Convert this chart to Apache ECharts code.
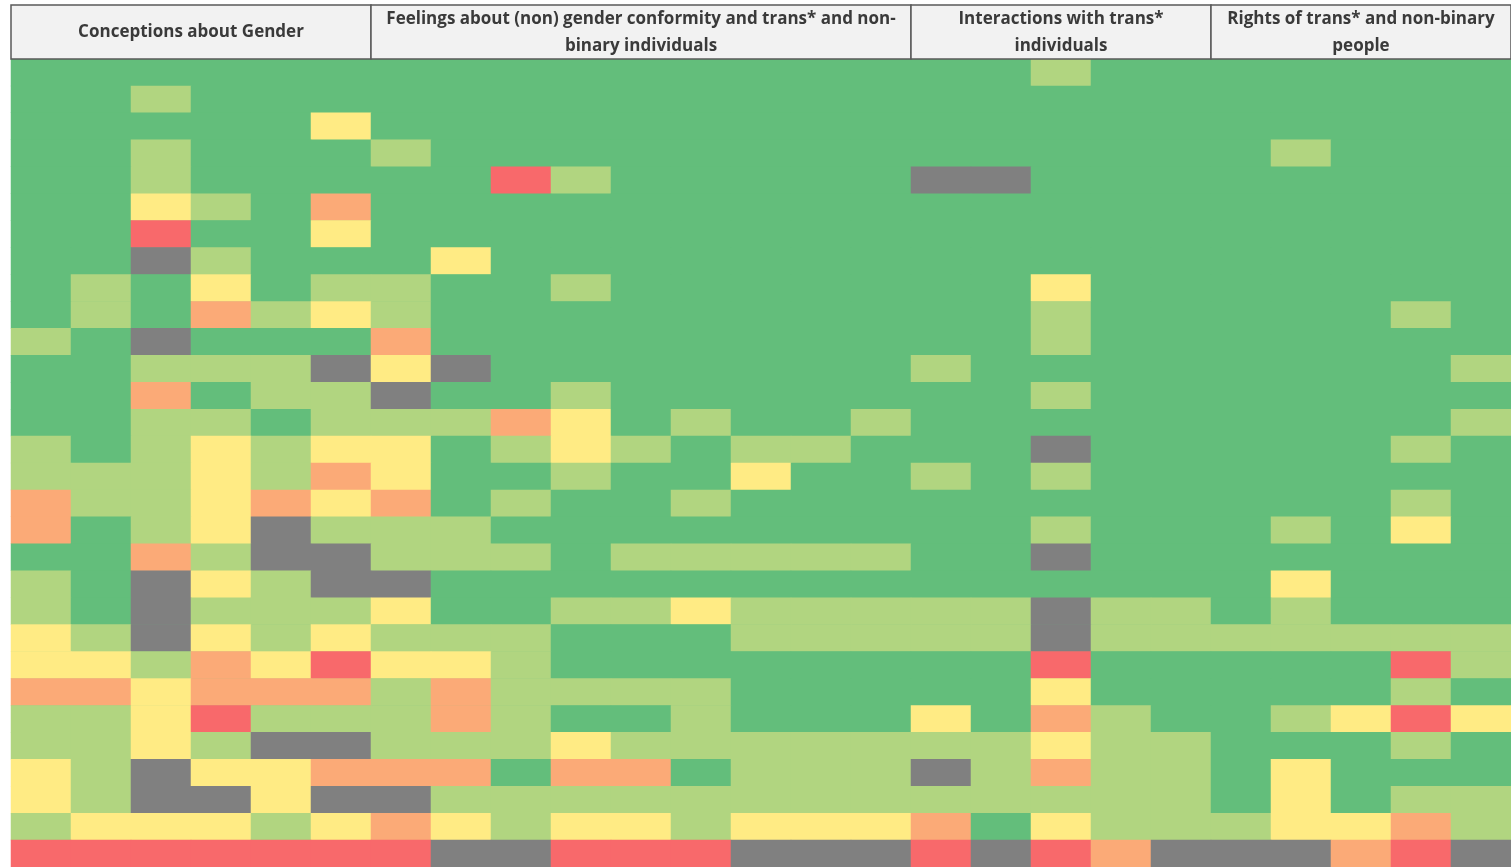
<!DOCTYPE html>
<html>
<head>
<meta charset="utf-8">
<script src="https://cdn.jsdelivr.net/npm/echarts@6/dist/echarts.min.js"></script>
<style>
html,body{margin:0;padding:0;background:#fff;}
#chart{width:1511px;height:867px;}
</style>
</head>
<body>
<div id="chart"></div>
<script>
// Column groups (header) and how many item columns each spans
const groupLabels = [
  "Conceptions about Gender",
  "Feelings about (non) gender conformity and trans* and non-\nbinary individuals",
  "Interactions with trans*\nindividuals",
  "Rights of trans* and non-binary\npeople"
];
const groupSpans = [6, 9, 5, 5];

// Response levels: 5 = best (dark green) ... 1 = worst (red), 0 = no answer (grey)
const levelValues = [5, 4, 3, 2, 1, 0];
const levelColors = ["#63BE7B", "#B1D580", "#FFEB84", "#FBAA77", "#F8696B", "#808080"];

// One array per respondent row (top to bottom), one value per item column
const r00 = [5,5,5,5,5,5,5,5,5,5,5,5,5,5,5,5,5,4,5,5,5,5,5,5,5];
const r01 = [5,5,4,5,5,5,5,5,5,5,5,5,5,5,5,5,5,5,5,5,5,5,5,5,5];
const r02 = [5,5,5,5,5,3,5,5,5,5,5,5,5,5,5,5,5,5,5,5,5,5,5,5,5];
const r03 = [5,5,4,5,5,5,4,5,5,5,5,5,5,5,5,5,5,5,5,5,5,4,5,5,5];
const r04 = [5,5,4,5,5,5,5,5,1,4,5,5,5,5,5,0,0,5,5,5,5,5,5,5,5];
const r05 = [5,5,3,4,5,2,5,5,5,5,5,5,5,5,5,5,5,5,5,5,5,5,5,5,5];
const r06 = [5,5,1,5,5,3,5,5,5,5,5,5,5,5,5,5,5,5,5,5,5,5,5,5,5];
const r07 = [5,5,0,4,5,5,5,3,5,5,5,5,5,5,5,5,5,5,5,5,5,5,5,5,5];
const r08 = [5,4,5,3,5,4,4,5,5,4,5,5,5,5,5,5,5,3,5,5,5,5,5,5,5];
const r09 = [5,4,5,2,4,3,4,5,5,5,5,5,5,5,5,5,5,4,5,5,5,5,5,4,5];
const r10 = [4,5,0,5,5,5,2,5,5,5,5,5,5,5,5,5,5,4,5,5,5,5,5,5,5];
const r11 = [5,5,4,4,4,0,3,0,5,5,5,5,5,5,5,4,5,5,5,5,5,5,5,5,4];
const r12 = [5,5,2,5,4,4,0,5,5,4,5,5,5,5,5,5,5,4,5,5,5,5,5,5,5];
const r13 = [5,5,4,4,5,4,4,4,2,3,5,4,5,5,4,5,5,5,5,5,5,5,5,5,4];
const r14 = [4,5,4,3,4,3,3,5,4,3,4,5,4,4,5,5,5,0,5,5,5,5,5,4,5];
const r15 = [4,4,4,3,4,2,3,5,5,4,5,5,3,5,5,4,5,4,5,5,5,5,5,5,5];
const r16 = [2,4,4,3,2,3,2,5,4,5,5,4,5,5,5,5,5,5,5,5,5,5,5,4,5];
const r17 = [2,5,4,3,0,4,4,4,5,5,5,5,5,5,5,5,5,4,5,5,5,4,5,3,5];
const r18 = [5,5,2,4,0,0,4,4,4,5,4,4,4,4,4,5,5,0,5,5,5,5,5,5,5];
const r19 = [4,5,0,3,4,0,0,5,5,5,5,5,5,5,5,5,5,5,5,5,5,3,5,5,5];
const r20 = [4,5,0,4,4,4,3,5,5,4,4,3,4,4,4,4,4,0,4,4,5,4,5,5,5];
const r21 = [3,4,0,3,4,3,4,4,4,5,5,5,4,4,4,4,4,0,4,4,4,4,4,4,4];
const r22 = [3,3,4,2,3,1,3,3,4,5,5,5,5,5,5,5,5,1,5,5,5,5,5,1,4];
const r23 = [2,2,3,2,2,2,4,2,4,4,4,4,5,5,5,5,5,3,5,5,5,5,5,4,5];
const r24 = [4,4,3,1,4,4,4,2,4,5,5,4,5,5,5,3,5,2,4,5,5,4,3,1,3];
const r25 = [4,4,3,4,0,0,4,4,4,3,4,4,4,4,4,4,4,3,4,4,5,5,5,4,5];
const r26 = [3,4,0,3,3,2,2,2,5,2,2,5,4,4,4,0,4,2,4,4,5,3,5,5,5];
const r27 = [3,4,0,0,3,0,0,4,4,4,4,4,4,4,4,4,4,4,4,4,5,3,5,4,4];
const r28 = [4,3,3,3,4,3,2,3,4,3,3,4,3,3,3,2,5,3,4,4,4,3,3,2,4];
const r29 = [1,1,1,1,1,1,1,0,0,1,1,1,0,0,0,1,0,1,2,0,0,0,2,1,0];

const rows = [r00,r01,r02,r03,r04,r05,r06,r07,r08,r09,r10,r11,r12,r13,r14,
              r15,r16,r17,r18,r19,r20,r21,r22,r23,r24,r25,r26,r27,r28,r29];

const nCols = r00.length;
const itemCats = Array.from({length: nCols}, (_, i) => "Q" + (i + 1));
const rowCats = rows.map((_, i) => "R" + (i + 1));

const cells = [];
rows.forEach((row, y) => row.forEach((v, x) => cells.push([x, y, v])));

// Layout
const gridLeft = 11, gridTop = 59, colW = 60, rowH = 27;
const headTop = 5, headH = gridTop - headTop;

const graphics = [];
let c0 = 0;
groupLabels.forEach((label, i) => {
  const x = gridLeft + c0 * colW;
  const w = groupSpans[i] * colW;
  graphics.push({
    type: 'rect', z: 10,
    shape: {x: x, y: headTop, width: w, height: headH},
    style: {fill: '#F2F2F2', stroke: '#5a5a5a', lineWidth: 1.5}
  });
  graphics.push({
    type: 'text', z: 11,
    x: x + w / 2, y: headTop + headH / 2 + 0.5,
    style: {
      text: label, align: 'center', verticalAlign: 'middle',
      fill: '#3a3a3a', font: 'bold 17px "Open Sans", sans-serif', lineHeight: 27
    }
  });
  c0 += groupSpans[i];
});

const chart = echarts.init(document.getElementById('chart'));
chart.setOption({
  animation: false,
  backgroundColor: '#ffffff',
  grid: {
    left: gridLeft, top: gridTop, width: nCols * colW, height: rows.length * rowH,
    show: true, backgroundColor: levelColors[0], borderWidth: 0
  },
  xAxis: {type: 'category', data: itemCats, show: false},
  yAxis: {type: 'category', data: rowCats, inverse: true, show: false},
  visualMap: {
    type: 'piecewise', show: false, dimension: 2,
    pieces: levelValues.map((v, i) => ({value: v, color: levelColors[i]}))
  },
  series: [{
    type: 'heatmap', data: cells,
    itemStyle: {borderWidth: 0},
    emphasis: {disabled: true}
  }],
  graphic: graphics
});
</script>
</body>
</html>
